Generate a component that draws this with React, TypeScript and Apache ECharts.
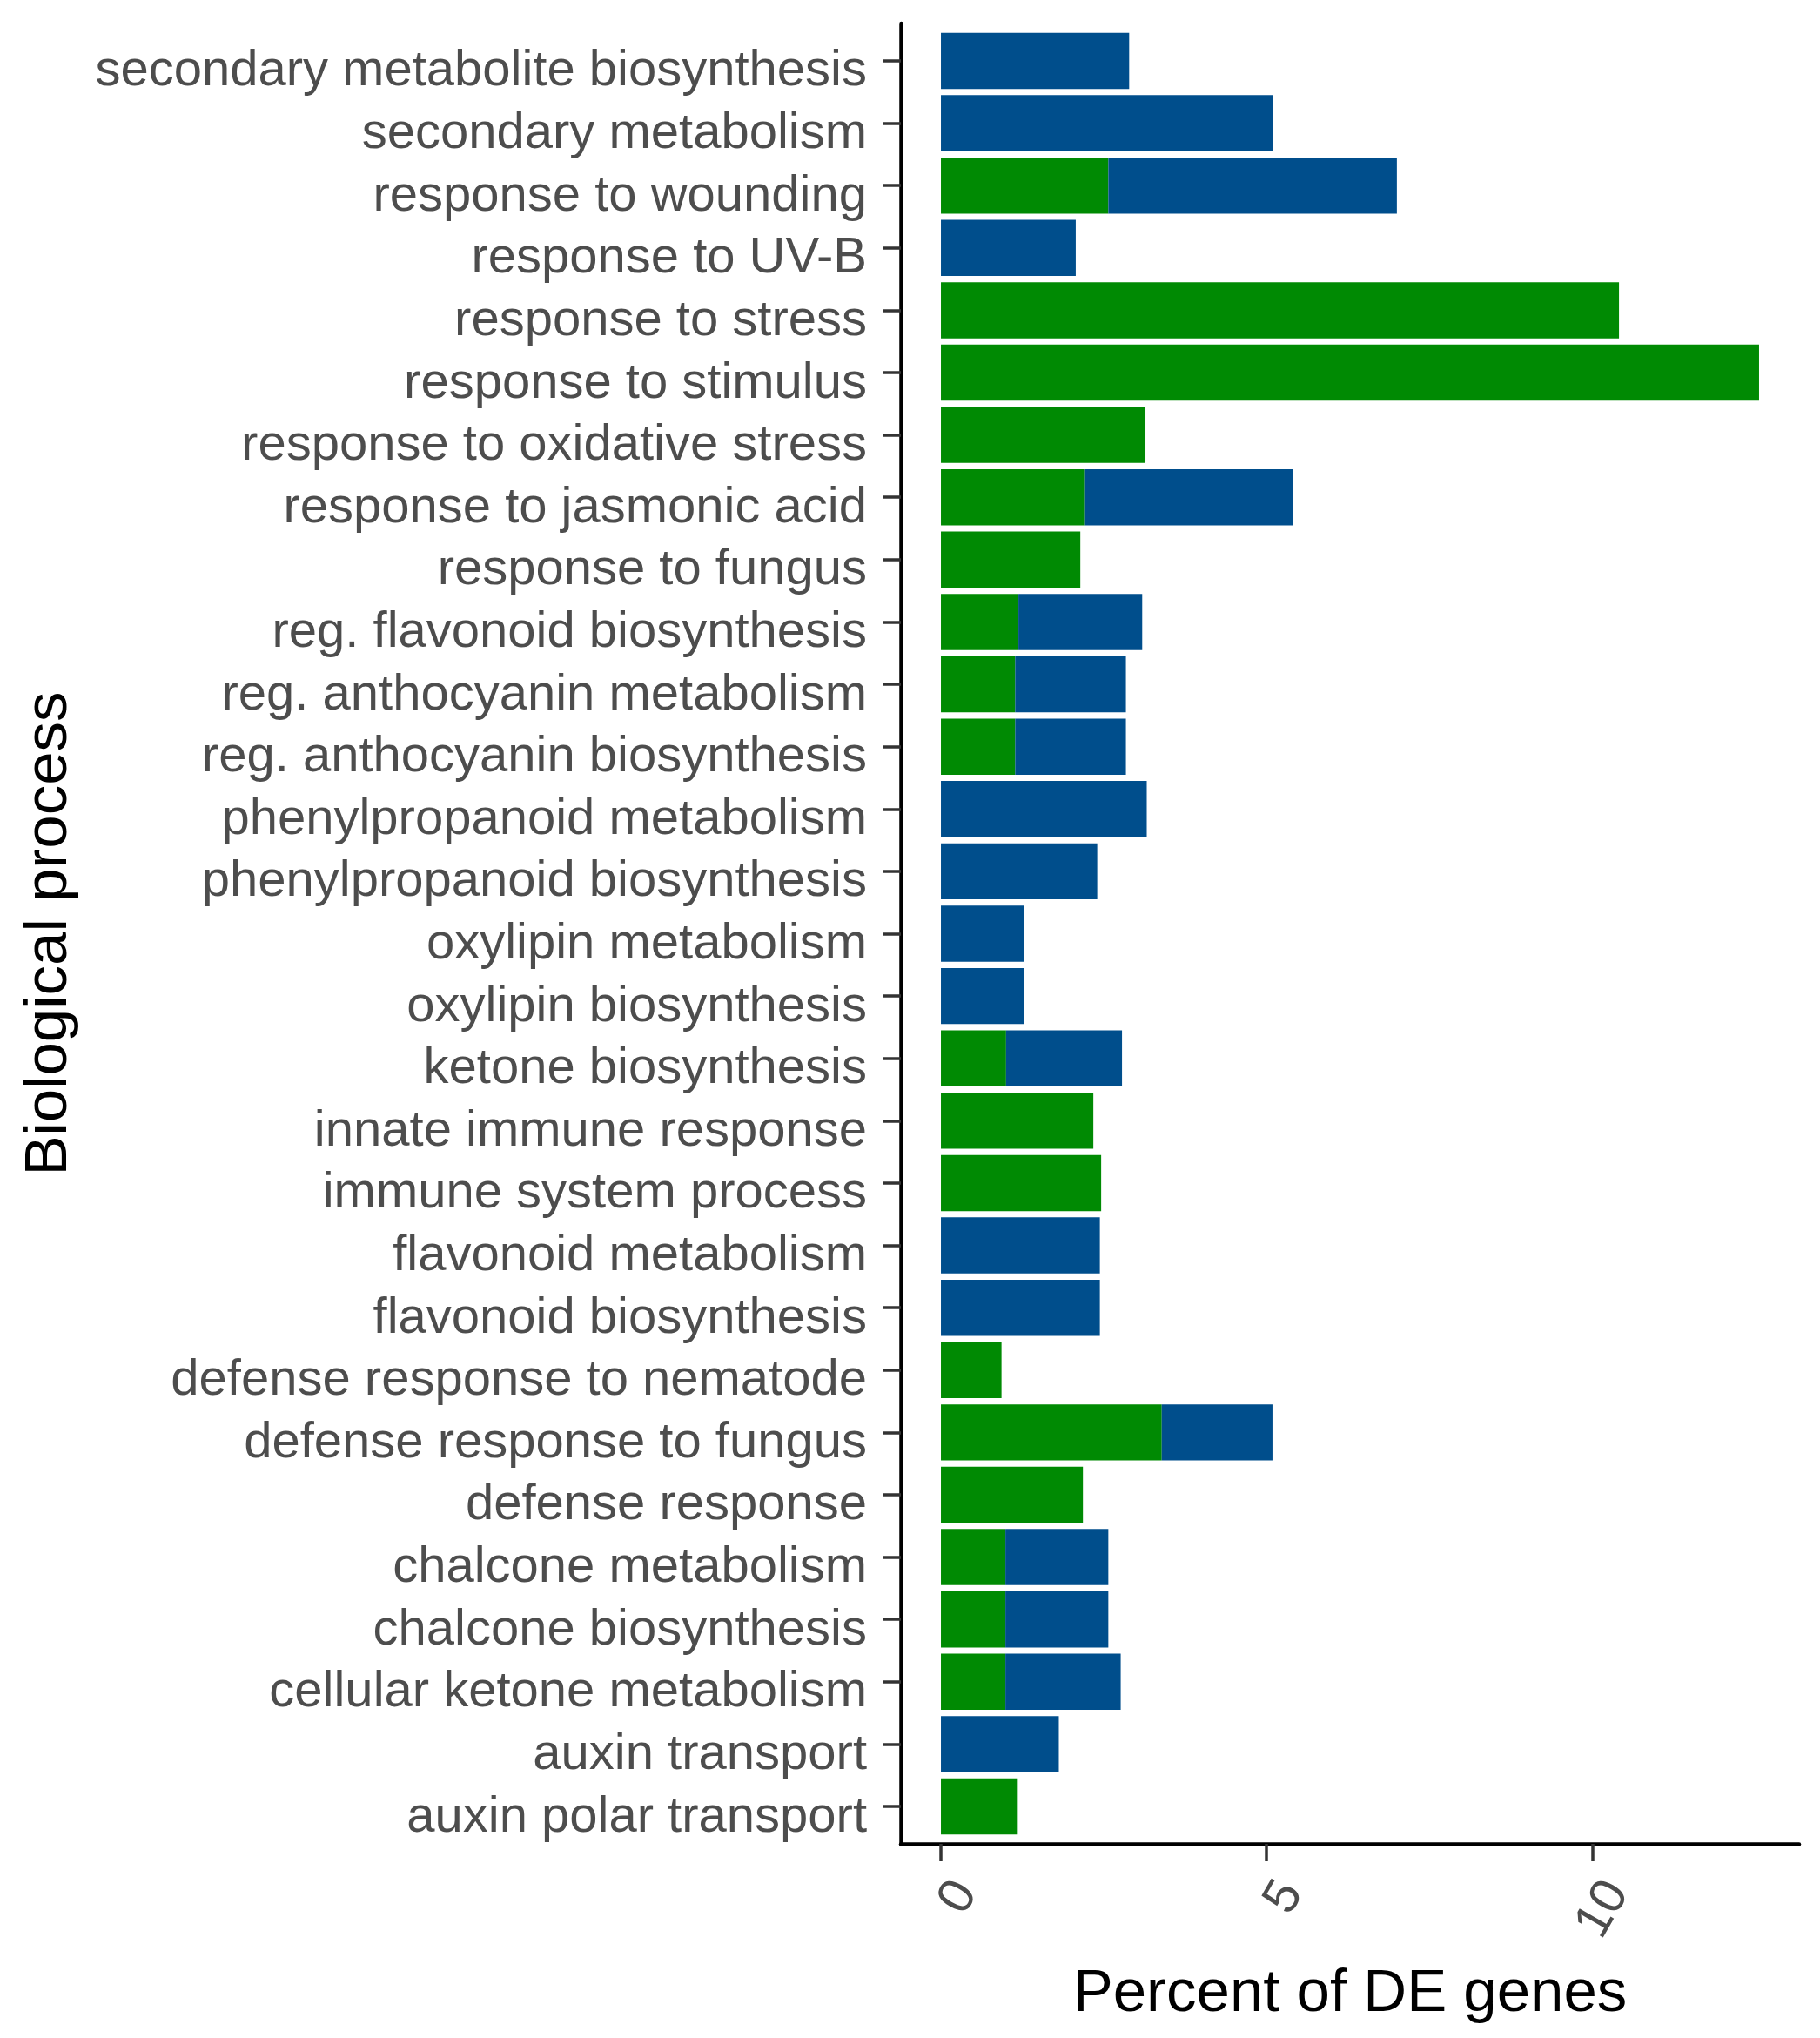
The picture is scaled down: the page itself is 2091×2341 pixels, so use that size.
import React, { useEffect, useRef } from "react";
import * as echarts from "echarts";

// Categories listed bottom -> top (ggplot factor order)
const categories = [
  "auxin polar transport",
  "auxin transport",
  "cellular ketone metabolism",
  "chalcone biosynthesis",
  "chalcone metabolism",
  "defense response",
  "defense response to fungus",
  "defense response to nematode",
  "flavonoid biosynthesis",
  "flavonoid metabolism",
  "immune system process",
  "innate immune response",
  "ketone biosynthesis",
  "oxylipin biosynthesis",
  "oxylipin metabolism",
  "phenylpropanoid biosynthesis",
  "phenylpropanoid metabolism",
  "reg. anthocyanin biosynthesis",
  "reg. anthocyanin metabolism",
  "reg. flavonoid biosynthesis",
  "response to fungus",
  "response to jasmonic acid",
  "response to oxidative stress",
  "response to stimulus",
  "response to stress",
  "response to UV-B",
  "response to wounding",
  "secondary metabolism",
  "secondary metabolite biosynthesis",
];

// Green segment (drawn first, from 0)
const greenValues = [
  1.18, 0, 0.99, 0.99, 0.99, 2.18, 3.39, 0.93, 0, 0,
  2.46, 2.34, 1.0, 0, 0, 0, 0, 1.14, 1.14, 1.19,
  2.14, 2.2, 3.14, 12.56, 10.41, 0, 2.57, 0, 0,
];

// Blue segment (stacked after green)
const blueValues = [
  0, 1.81, 1.77, 1.58, 1.58, 0, 1.7, 0, 2.44, 2.44,
  0, 0, 1.78, 1.27, 1.27, 2.4, 3.16, 1.7, 1.7, 1.9,
  0, 3.21, 0, 0, 0, 2.07, 4.43, 5.1, 2.89,
];

const xTickValues = [0, 5, 10];

export default function App() {
  const ref = useRef<HTMLDivElement>(null);

  useEffect(() => {
    document.body.style.margin = "0";
    const chart = echarts.init(ref.current as HTMLDivElement, null, { renderer: "svg" });
    const font = "'Liberation Sans', Arial, sans-serif";
    const labelGrey = "#4D4D4D";

    chart.setOption({
      animation: false,
      backgroundColor: "#ffffff",
      grid: [
        { left: 1035, top: 27, width: 1032, height: 2091 },
        { left: 1035, top: 34.16, width: 1032, height: 2076.68 },
      ],
      xAxis: [
        {
          gridIndex: 0,
          type: "value",
          min: -0.615,
          max: 13.175,
          axisLine: { show: true, onZero: false, lineStyle: { color: "#000000", width: 4.5 } },
          axisTick: {
            show: true,
            length: 20,
            customValues: xTickValues,
            lineStyle: { color: "#333333", width: 3.5 },
          },
          axisLabel: {
            customValues: xTickValues,
            rotate: 60,
            align: "right",
            verticalAlign: "top",
            margin: 31,
            fontSize: 58,
            color: labelGrey,
            fontFamily: font,
          },
          splitLine: { show: false },
          name: "Percent of DE genes",
          nameLocation: "middle",
          nameGap: 134,
          nameTextStyle: { fontSize: 69, color: "#000000", fontFamily: font },
        },
        {
          gridIndex: 1,
          type: "value",
          min: -0.615,
          max: 13.175,
          show: false,
          axisLine: { onZero: false },
        },
      ],
      yAxis: [
        {
          gridIndex: 0,
          type: "value",
          min: 0,
          max: 1,
          axisLine: { show: true, onZero: false, lineStyle: { color: "#000000", width: 4.5 } },
          axisTick: { show: false },
          axisLabel: { show: false },
          splitLine: { show: false },
          name: "Biological process",
          nameLocation: "middle",
          nameRotate: 90,
          nameGap: 948,
          nameTextStyle: { fontSize: 69, color: "#000000", fontFamily: font },
        },
        {
          gridIndex: 1,
          type: "category",
          data: categories,
          axisLine: { show: false, onZero: false },
          axisTick: {
            show: true,
            alignWithLabel: true,
            length: 20,
            lineStyle: { color: "#333333", width: 3.5 },
          },
          axisLabel: {
            margin: 39,
            fontSize: 58,
            color: labelGrey,
            fontFamily: font,
            interval: 0,
            verticalAlign: "top",
            lineHeight: 16,
          },
          splitLine: { show: false },
        },
      ],
      series: [
        {
          type: "bar",
          xAxisIndex: 1,
          yAxisIndex: 1,
          stack: "total",
          data: greenValues,
          itemStyle: { color: "#008A03" },
          barCategoryGap: "10%",
        },
        {
          type: "bar",
          xAxisIndex: 1,
          yAxisIndex: 1,
          stack: "total",
          data: blueValues,
          itemStyle: { color: "#004E8C" },
          barCategoryGap: "10%",
        },
      ],
    });

    return () => {
      chart.dispose();
    };
  }, []);

  return <div ref={ref} style={{ width: 2091, height: 2341 }} />;
}
